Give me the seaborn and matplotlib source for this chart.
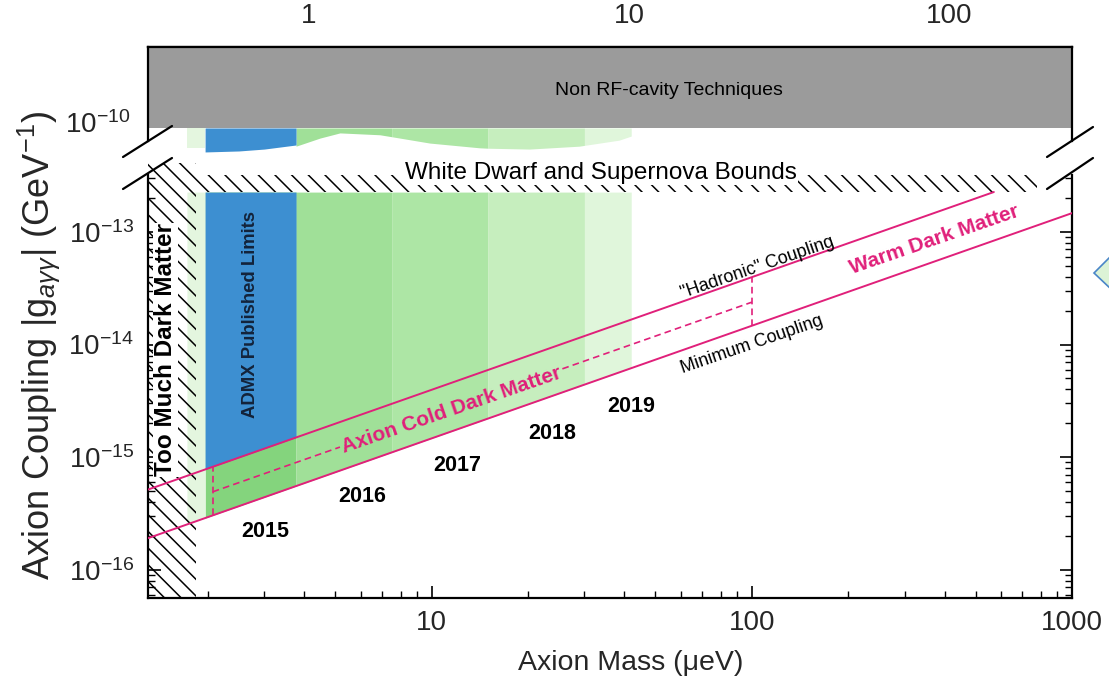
import numpy as np
import pandas as pd
import matplotlib
matplotlib.use("Agg")
import matplotlib.pyplot as plt
import seaborn as sns
from matplotlib.lines import Line2D
from matplotlib.patches import Polygon
from matplotlib.ticker import FixedLocator, NullLocator, NullFormatter

sns.set_theme(style="white")
FONT = "Liberation Sans"
plt.rcParams["font.family"] = [FONT, "DejaVu Sans"]
plt.rcParams["mathtext.fontset"] = "custom"
plt.rcParams["mathtext.rm"] = FONT
plt.rcParams["mathtext.it"] = FONT + ":italic"
plt.rcParams["mathtext.bf"] = FONT + ":bold"
plt.rcParams["hatch.linewidth"] = 1.1
plt.rcParams["hatch.color"] = "black"

# ---------------- data ----------------
MASS_MIN, MASS_MAX = 1.3, 1000.0          # axion mass, micro-eV
GHZ_PER_UEV = 0.2418                      # photon frequency per unit mass

KSVZ_COEF = 3.97e-16                      # "hadronic" coupling per micro-eV
DFSZ_COEF = 1.47e-16                      # minimum coupling per micro-eV
CDM_COEF = 2.38e-16                       # middle (dashed) coupling per micro-eV

ksvz_mass = [1.3, 570.0]
dfsz_mass = [1.3, 1000.0]
cdm_mass_left = [2.07, 5.17]
cdm_mass_right = [25.6, 100.0]
window_mass = [2.07, 100.0]

g_upper_bound = 2.26e-13                  # white dwarf / supernova bound
g_band_top = 3.2e-13
g_bound_top = 4.1e-13
too_much_dm_mass = 1.83

admx_mass = [1.96, 3.77]
pale_mass = [1.72, 1.96]

years = ["2015", "2016", "2017", "2018", "2019"]
year_edges = [1.96, 3.77, 7.5, 15.0, 30.0, 42.0]
year_colors = ["#84d47d", "#a0e098", "#ade6a5", "#c6eebe", "#e0f6db"]

g_nonrf_low = 8.85e-11
top_green_mass = [3.77, 4.48, 5.17, 6.89, 7.5, 9.86, 14.1, 15.0, 20.2, 28.9, 30.0, 38.5, 42.0]
top_green_g = [6.1e-11, 7.2e-11, 8.0e-11, 7.7e-11, 7.4e-11, 6.5e-11, 5.9e-11, 5.85e-11,
               5.75e-11, 6.1e-11, 6.2e-11, 6.9e-11, 7.5e-11]
top_admx_mass = [1.96, 2.5, 3.0, 3.77]
top_admx_g = [5.42e-11, 5.53e-11, 5.75e-11, 6.25e-11]
top_pale_g = 5.9e-11

PINK = "#e0207a"
BLUE = "#3d8fd1"
GRAY = "#9b9b9b"
PALE = "#e4f6df"

W, H = 1109, 684
fig = plt.figure(figsize=(W / 100, H / 100), dpi=100)
fig.patch.set_facecolor("white")


def fx(px):
    return px / W


def fy(py):
    return 1 - py / H


L, R = 148, 1072
ax = fig.add_axes([fx(L), fy(598), fx(R) - fx(L), fy(160) - fy(598)])
axt = fig.add_axes([fx(L), fy(155), fx(R) - fx(L), fy(47) - fy(155)])

for a in (ax, axt):
    a.set_xscale("log")
    a.set_yscale("log")
    a.set_xlim(MASS_MIN, MASS_MAX)
    a.set_facecolor("none")
    for s in a.spines.values():
        s.set_color("black")
        s.set_linewidth(1.6)

ax.set_ylim(10 ** -16.25, 10 ** -12.361)
axt.set_ylim(10 ** -10.293, 10 ** -9.3345)

# ---------------- lower panel ----------------
# year-by-year scanned region down to the minimum coupling
for lab, lo, hi, col in zip(years, year_edges[:-1], year_edges[1:], year_colors):
    xs = np.array([lo, hi])
    ax.fill_between(xs, DFSZ_COEF * xs, g_upper_bound, color=col, lw=0, zorder=1)

xs = np.array(pale_mass)
ax.fill_between(xs, DFSZ_COEF * xs, g_upper_bound, color=PALE, lw=0, zorder=1)
xs = np.array(admx_mass)
ax.fill_between(xs, KSVZ_COEF * xs, g_upper_bound, color=BLUE, lw=0, zorder=2)

# hatched exclusions
ax.fill_between([MASS_MIN, too_much_dm_mass], 10 ** -16.25, g_bound_top,
                facecolor="none", edgecolor="black", hatch="\\\\", lw=0, zorder=3)
ax.fill_between([too_much_dm_mass, 780.0], g_upper_bound, g_band_top,
                facecolor="none", edgecolor="black", hatch="\\\\", lw=0, zorder=3)

# coupling lines
lines = pd.DataFrame({
    "mass": ksvz_mass + dfsz_mass,
    "g": [KSVZ_COEF * m for m in ksvz_mass] + [DFSZ_COEF * m for m in dfsz_mass],
    "model": ["KSVZ", "KSVZ", "DFSZ", "DFSZ"],
})
sns.lineplot(data=lines, x="mass", y="g", units="model", estimator=None,
             color=PINK, lw=1.4, ax=ax, zorder=5, legend=False)

for seg in (cdm_mass_left, cdm_mass_right):
    xs = np.array(seg)
    ax.plot(xs, CDM_COEF * xs, color=PINK, lw=1.2, dashes=(4, 2.5), zorder=5)
for m in window_mass:
    ax.plot([m, m], [DFSZ_COEF * m, KSVZ_COEF * m], color=PINK, lw=1.2,
            dashes=(4, 2.5), zorder=5)

# annotations
ax.text(1.475, 8.97e-15, "Too Much Dark Matter", rotation=90, ha="center", va="center",
        fontsize=17.5, fontweight="bold", color="black", zorder=6,
        bbox=dict(facecolor="white", edgecolor="none", pad=0.5))
ax.text(2.71, 1.84e-14, "ADMX Published Limits", rotation=90, ha="center", va="center",
        fontsize=13.3, fontweight="bold", color="#13233a", zorder=6)
ax.text(33.9, 3.34e-13, "White Dwarf and Supernova Bounds", ha="center", va="center",
        fontsize=17.5, color="black", zorder=6,
        bbox=dict(facecolor="white", edgecolor="none", pad=0.5))

ang = 19.0
ax.text(11.5, 2.64e-15, "Axion Cold Dark Matter", rotation=ang, rotation_mode="anchor",
        ha="center", va="center", fontsize=15, fontweight="bold", color=PINK, zorder=6)
ax.text(371, 8.5e-14, "Warm Dark Matter", rotation=ang, rotation_mode="anchor",
        ha="center", va="center", fontsize=15, fontweight="bold", color=PINK, zorder=6)
ax.text(104, 4.8e-14, "\"Hadronic\" Coupling", rotation=ang, rotation_mode="anchor",
        ha="center", va="center", fontsize=13, color="black", zorder=6)
ax.text(100, 9.9e-15, "Minimum Coupling", rotation=ang, rotation_mode="anchor",
        ha="center", va="center", fontsize=13, color="black", zorder=6)

year_pos = [(3.02, 2.18e-16), (6.05, 4.46e-16), (12.05, 8.4e-16), (23.8, 1.61e-15), (42.0, 2.8e-15)]
for lab, (m, g) in zip(years, year_pos):
    ax.text(m, g, lab, ha="center", va="center", fontsize=15.5, fontweight="bold",
            color="black", zorder=6)

# axes styling
ax.spines["top"].set_visible(False)
ax.spines["left"].set_bounds(10 ** -16.25, 10 ** -12.494)
ax.spines["right"].set_bounds(10 ** -16.25, 10 ** -12.494)

ax.xaxis.set_major_locator(FixedLocator([10, 100, 1000]))
ax.set_xticklabels(["10", "100", "1000"])
ax.xaxis.set_minor_locator(FixedLocator([k * 10 ** e for e in range(0, 3) for k in range(2, 10)
                                         if MASS_MIN < k * 10 ** e < MASS_MAX]))
ax.xaxis.set_minor_formatter(NullFormatter())
ax.yaxis.set_major_locator(FixedLocator([1e-16, 1e-15, 1e-14, 1e-13]))
ax.set_yticklabels([r"$\mathregular{10^{-16}}$", r"$\mathregular{10^{-15}}$",
                    r"$\mathregular{10^{-14}}$", r"$\mathregular{10^{-13}}$"])
ax.yaxis.set_minor_locator(FixedLocator([k * 10.0 ** e for e in range(-17, -12) for k in range(2, 10)
                                         if 10 ** -16.25 < k * 10.0 ** e < 10 ** -12.494]))
ax.yaxis.set_minor_formatter(NullFormatter())
ax.tick_params(axis="both", which="both", direction="in", color="black",
               bottom=True, left=True, right=True, top=False)
ax.tick_params(axis="both", which="major", length=9, width=1.2, labelsize=20, pad=9)
ax.tick_params(axis="both", which="minor", length=5, width=1.0)
ax.tick_params(axis="y", which="major", pad=10)
ax.set_xlabel("")
ax.set_ylabel("")
ax.grid(False)

# ---------------- upper panel ----------------
axt.fill_between([MASS_MIN, MASS_MAX], g_nonrf_low, 10 ** -9.3345, color=GRAY, lw=0, zorder=1)
axt.fill_between(pale_mass, top_pale_g, g_nonrf_low, color=PALE, lw=0, zorder=1)
axt.fill_between(top_admx_mass, top_admx_g, g_nonrf_low, color=BLUE, lw=0, zorder=2)
tg_m = np.array(top_green_mass)
tg_g = np.array(top_green_g)
for lo, hi, col in zip(year_edges[1:-1], year_edges[2:], year_colors[1:]):
    sel = (tg_m >= lo) & (tg_m <= hi)
    axt.fill_between(tg_m, tg_g, g_nonrf_low, where=sel, color=col, lw=0, zorder=1)
axt.text(55, 1.92e-10, "Non RF-cavity Techniques", ha="center", va="center",
         fontsize=14, color="black", zorder=6)

axt.spines["bottom"].set_visible(False)
axt.spines["left"].set_bounds(10 ** -10.169, 10 ** -9.3345)
axt.spines["right"].set_bounds(10 ** -10.169, 10 ** -9.3345)
axt.xaxis.set_major_locator(NullLocator())
axt.xaxis.set_minor_locator(NullLocator())
axt.yaxis.set_major_locator(FixedLocator([1e-10]))
axt.set_yticklabels([r"$\mathregular{10^{-10}}$"])
axt.yaxis.set_minor_locator(NullLocator())
axt.tick_params(axis="y", which="major", length=0, labelsize=20, pad=13)
axt.grid(False)

sec = axt.secondary_xaxis("top", functions=(lambda m: m * GHZ_PER_UEV,
                                             lambda f: f / GHZ_PER_UEV))
sec.set_xticks([1, 10, 100])
sec.set_xticklabels(["1", "10", "100"])
sec.xaxis.set_minor_locator(NullLocator())
sec.tick_params(axis="x", which="both", length=0, labelsize=20, pad=13)
sec.spines["top"].set_linewidth(1.6)
sec.spines["top"].set_color("black")

# ---------------- axis titles ----------------
fig.text(fx(631), fy(663), "Axion Mass (\u03bceV)", ha="center", va="center", fontsize=20.5)
fig.text(fx(39), fy(345), r"Axion Coupling |g$_{a\gamma\gamma}$| (GeV$^{-1}$)",
         rotation=90, ha="center", va="center", fontsize=26)

# ---------------- axis break marks ----------------
for (x0, y0), (x1, y1) in [((123, 157), (172, 126)), ((123, 189), (172, 158)),
                           ((1047, 157), (1093, 127)), ((1047, 189), (1093, 158))]:
    fig.add_artist(Line2D([fx(x0), fx(x1)], [fy(y0), fy(y1)], color="black", lw=1.6,
                          transform=fig.transFigure))

# slide-edge marker at the right border
fig.add_artist(Polygon([(fx(1094), fy(273)), (fx(1112), fy(255)), (fx(1112), fy(290))],
                       closed=True, facecolor="#dcf3d6", edgecolor="#4a86c8", lw=1.2,
                       transform=fig.transFigure))

fig.savefig("out.png", dpi=100, facecolor="white")
